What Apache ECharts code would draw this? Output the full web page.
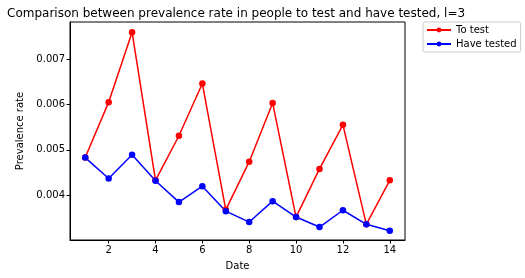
<!DOCTYPE html>
<html><head><meta charset="utf-8">
<script src="https://cdn.jsdelivr.net/npm/echarts@6/dist/echarts.min.js"></script>
<style>html,body{margin:0;padding:0;background:#fff}#c{width:525px;height:278px}</style>
</head><body><div id="c"></div>
<script>
const dates = [1,2,3,4,5,6,7,8,9,10,11,12,13,14];
const toTest = [0.00483,0.00605,0.00759,0.00433,0.00531,0.00646,0.00368,0.00474,0.00603,0.00352,0.00458,0.00555,0.00336,0.00433];
const haveTested = [0.00483,0.00437,0.00489,0.00432,0.00385,0.00420,0.00365,0.00341,0.00387,0.00352,0.00330,0.00367,0.00336,0.00322];
const xTicks = [2,4,6,8,10,12,14];
const yTicks = [0.004,0.005,0.006,0.007];
const font = 'DejaVu Sans';
const chart = echarts.init(document.getElementById('c'), null, {renderer:'canvas'});
const pair = a => dates.map((d,i)=>[d,a[i]]);
chart.setOption({
  animation:false,
  textStyle:{fontFamily:font},
  title:{text:'Comparison between prevalence rate in people to test and have tested, l=3',left:2,top:3,
    textStyle:{fontFamily:font,fontSize:12,fontWeight:'normal',color:'#000'}},
  legend:{orient:'vertical',left:423,top:22,itemWidth:24,itemHeight:6,itemGap:4,padding:[3,4,3,3],
    borderColor:'#ccc',borderWidth:1,borderRadius:2,
    textStyle:{fontFamily:font,fontSize:10,color:'#000'},data:['To test','Have tested']},
  grid:{left:70,right:120,top:22,bottom:38,show:true,borderColor:'#000',borderWidth:1,containLabel:false},
  xAxis:{type:'value',min:0.35,max:14.65,name:'Date',nameLocation:'middle',nameGap:21,
    nameTextStyle:{fontFamily:font,fontSize:10,color:'#000'},
    axisLine:{show:true,lineStyle:{color:'#000',width:1}},
    axisTick:{show:true,length:3.5,customValues:xTicks,lineStyle:{color:'#000'}},
    axisLabel:{customValues:xTicks,fontFamily:font,fontSize:10,color:'#000',margin:5},
    splitLine:{show:false}},
  yAxis:{type:'value',min:0.003015,max:0.007815,name:'Prevalence rate',nameLocation:'middle',nameGap:34,
    nameTextStyle:{fontFamily:font,fontSize:10,color:'#000'},
    axisLine:{show:true,lineStyle:{color:'#000',width:1}},
    axisTick:{show:true,length:3.5,customValues:yTicks,lineStyle:{color:'#000'}},
    axisLabel:{customValues:yTicks,fontFamily:font,fontSize:10,color:'#000',margin:5,formatter:v=>v.toFixed(3)},
    splitLine:{show:false}},
  series:[
    {name:'To test',type:'line',data:pair(toTest),symbol:'circle',symbolSize:6.5,
      itemStyle:{color:'#ff0000'},lineStyle:{color:'#ff0000',width:1.5}},
    {name:'Have tested',type:'line',data:pair(haveTested),symbol:'circle',symbolSize:6.5,
      itemStyle:{color:'#0000ff'},lineStyle:{color:'#0000ff',width:1.5}}
  ]
});
</script></body></html>
